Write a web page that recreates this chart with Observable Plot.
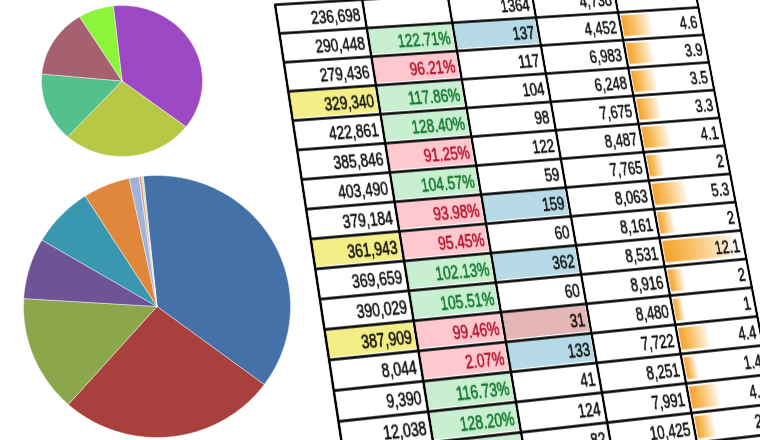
<!DOCTYPE html>
<html><head><meta charset="utf-8">
<script src="https://cdn.jsdelivr.net/npm/d3@7"></script>
<script src="https://cdn.jsdelivr.net/npm/@observablehq/plot@0.6"></script>
<style>
html,body{margin:0;padding:0;background:#fff;}
#stage{position:relative;width:760px;height:440px;overflow:hidden;background:#fff;}
.layer{position:absolute;left:0;top:0;}
.layer svg{display:block;max-width:none;}
</style></head><body><div id="stage"></div>
<script>
// ---------- DATA ----------
// small pie (clockwise from the top)
const smallPieNames  = ["s1", "s2", "s3", "s4", "s5"];
const smallPieValues = [37.1, 26.4, 14.7, 14.7, 7.1];
// large pie (clockwise from the top)
const bigPieNames  = ["b1", "b2", "b3", "b4", "b5", "b6", "b7", "b8", "b9"];
const bigPieValues = [36.8, 26.4, 14.4, 7.5, 7.5, 5.7, 1.2, 0.3, 0.2];

// spreadsheet columns (one entry per row, top to bottom)
const colA = [236698, 290448, 279436, 329340, 422861, 385846, 403490, 379184, 361943, 369659, 390029, 387909, 8044, 9390, 12038, null];
const colATone = ["", "", "", "y", "", "", "", "", "y", "", "", "y", "", "", "", ""];
const colB = [null, 122.71, 96.21, 117.86, 128.40, 91.25, 104.57, 93.98, 95.45, 102.13, 105.51, 99.46, 2.07, 116.73, 128.20, null];
const colBTone = ["", "g", "r", "g", "g", "r", "g", "r", "r", "g", "g", "r", "r", "g", "g", "g"];
const colC = [1364, 137, 117, 104, 98, 122, 59, 159, 60, 362, 60, 31, 133, 41, 124, 82];
const colCTone = ["", "b", "", "", "", "", "", "b", "", "b", "", "p", "b", "", "", ""];
const colD = [4738, 4452, 6983, 6248, 7675, 8487, 7765, 8063, 8161, 8531, 8916, 8480, 7722, 8251, 7991, 10425];
const colE = [null, 4.6, 3.9, 3.5, 3.3, 4.1, 2, 5.3, 2, 12.1, 2, 1, 4.4, 1.4, 4.3, 2.6];

// ---------- STYLE ----------
const smallPieColors = ["#9c49c3", "#b7c847", "#54c08b", "#a7606f", "#8cf43b"];
const bigPieColors = ["#4471a8", "#a8413d", "#8ca64b", "#6e5397", "#3997af", "#e0873b", "#9fb3da", "#e59a8a", "#c9dca0"];
const toneFill = {y: "#f3ee86", g: "#c8efd0", r: "#ffc8cf", b: "#b6dbe7", p: "#e4b6b6"};
const toneText = {g: "#12782c", r: "#b4142c"};
const FONT = "'Liberation Sans', Arial, sans-serif";

const stage = document.getElementById("stage");

// ---------- PIES ----------
function slicePolys(values, startDeg) {
  const total = d3.sum(values);
  let a = startDeg;
  return values.map(v => {
    const a0 = a, a1 = a + v / total * 360; a = a1;
    const pts = [{x: 0, y: 0}];
    const n = Math.max(2, Math.ceil(a1 - a0));
    for (let k = 0; k <= n; k++) {
      const t = (a0 + (a1 - a0) * k / n) * Math.PI / 180;
      pts.push({x: Math.sin(t), y: Math.cos(t)});
    }
    pts.push({x: 0, y: 0});
    return pts;
  });
}
function piePlot(values, colors, startDeg, w, h) {
  const m = 2;
  const polys = slicePolys(values, startDeg);
  return Plot.plot({
    width: w + 2 * m, height: h + 2 * m, margin: m,
    x: {domain: [-1, 1], axis: null}, y: {domain: [-1, 1], axis: null},
    style: {background: "transparent", overflow: "visible"},
    marks: polys.map((p, i) => Plot.line(p, {x: "x", y: "y", fill: colors[i], stroke: "#ffffff", strokeWidth: 0.8, strokeOpacity: 0.55, curve: "linear"}))
  });
}
function place(node, left, top) {
  const d = document.createElement("div");
  d.className = "layer";
  d.style.left = left + "px"; d.style.top = top + "px";
  d.appendChild(node);
  stage.appendChild(d);
  return d;
}

// ---------- TABLE ----------
const CW = 118, RH = 29, M = 4, NR = colA.length, NC = 5;
const cells = [];
const fmtInt = d3.format(",");
for (let r = 0; r < NR; r++) {
  cells.push({row: r, col: 0, label: colA[r] == null ? "" : fmtInt(colA[r]), fill: toneFill[colATone[r]] || null, color: "#111"});
  cells.push({row: r, col: 1, label: colB[r] == null ? "" : colB[r].toFixed(2) + "%", fill: toneFill[colBTone[r]] || null, color: toneText[colBTone[r]] || "#111"});
  cells.push({row: r, col: 2, label: String(colC[r]), fill: toneFill[colCTone[r]] || null, color: "#111"});
  cells.push({row: r, col: 3, label: fmtInt(colD[r]), fill: null, color: "#111"});
  cells.push({row: r, col: 4, label: colE[r] == null ? "" : String(colE[r]), fill: null, color: "#111"});
}
const bars = colE.map((v, r) => ({row: r, v})).filter(d => d.v != null);

const table = Plot.plot({
  width: NC * CW + 2 * M, height: NR * RH + 2 * M,
  x: {domain: [0, NC], range: [M, M + NC * CW], axis: null},
  y: {domain: [0, NR], range: [M, M + NR * RH], axis: null},
  color: {type: "identity"},
  style: {background: "transparent", fontFamily: FONT, overflow: "visible"},
  marks: [
    Plot.rect(cells.filter(d => d.fill), {x1: "col", x2: d => d.col + 1, y1: "row", y2: d => d.row + 1, fill: "fill", inset: 2}),
    Plot.rect(bars, {x1: 4.03, x2: d => 4.07 + 0.0667 * d.v, y1: d => d.row + 0.13, y2: d => d.row + 0.88, fill: "url(#barGrad)"}),
    Plot.ruleY(d3.range(0, NR + 1), {y: d => d, x1: 0, x2: NC, stroke: "#000", strokeWidth: 2.3}),
    Plot.ruleX(d3.range(0, NC + 1), {x: d => d, y1: 0, y2: NR, stroke: "#000", strokeWidth: 3.2}),
    Plot.text(cells.filter(d => d.label), {x: d => d.col + 1, y: d => d.row + 1, text: "label", fill: "color", stroke: "color", strokeWidth: 0.55, textAnchor: "end", lineAnchor: "bottom", dx: -6, dy: -8, fontSize: 18.5})
  ]
});
// gradient for the data bars
const defs = d3.select(table).insert("defs", ":first-child");
const grad = defs.append("linearGradient").attr("id", "barGrad").attr("x1", 0).attr("x2", 1).attr("y1", 0).attr("y2", 0);
grad.append("stop").attr("offset", "0").attr("stop-color", "#f4a22c");
grad.append("stop").attr("offset", "0.4").attr("stop-color", "#f8c066");
grad.append("stop").attr("offset", "1").attr("stop-color", "#fff6ea");

// perspective placement of the table (homography from 4 grid corners)
function homography(src, dst) {
  const A = [], b = [];
  for (let i = 0; i < 4; i++) {
    const [x, y] = src[i], [X, Y] = dst[i];
    A.push([x, y, 1, 0, 0, 0, -x * X, -y * X]); b.push(X);
    A.push([0, 0, 0, x, y, 1, -x * Y, -y * Y]); b.push(Y);
  }
  const n = 8;
  for (let i = 0; i < n; i++) {
    let p = i;
    for (let k = i + 1; k < n; k++) if (Math.abs(A[k][i]) > Math.abs(A[p][i])) p = k;
    [A[i], A[p]] = [A[p], A[i]]; [b[i], b[p]] = [b[p], b[i]];
    for (let k = i + 1; k < n; k++) {
      const f = A[k][i] / A[i][i];
      for (let j = i; j < n; j++) A[k][j] -= f * A[i][j];
      b[k] -= f * b[i];
    }
  }
  const h = new Array(n);
  for (let i = n - 1; i >= 0; i--) {
    let s = b[i];
    for (let j = i + 1; j < n; j++) s -= A[i][j] * h[j];
    h[i] = s / A[i][i];
  }
  return h;
}
const src = [[M, M + RH], [M + NC * CW, M + RH], [M, M + 14 * RH], [M + NC * CW, M + 14 * RH]];
const dst = [[279, 33], [698, 7], [338, 421], [768, 374]];
const h = homography(src, dst);
const tLayer = place(table, 0, 0);
tLayer.style.transformOrigin = "0 0";
tLayer.style.transform = `matrix3d(${h[0]},${h[3]},0,${h[6]},${h[1]},${h[4]},0,${h[7]},0,0,1,0,${h[2]},${h[5]},0,1)`;

place(piePlot(smallPieValues, smallPieColors, -6.2, 161, 151), 39, 3);
place(piePlot(bigPieValues, bigPieColors, -5.9, 267, 262), 21, 173);
</script></body></html>
